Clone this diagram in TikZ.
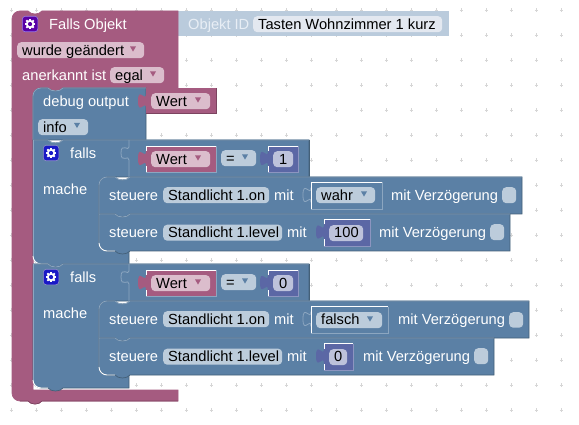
\documentclass[tikz,border=0pt]{standalone}
\usepackage{fontspec}
\setmainfont{Liberation Sans}
\definecolor{pur}{HTML}{A55B80}
\definecolor{purd}{HTML}{7C4460}
\definecolor{purl}{HTML}{C08DA6}
\definecolor{purf}{HTML}{DBBDCC}
\definecolor{blu}{HTML}{5B80A5}
\definecolor{blud}{HTML}{446078}
\definecolor{blul}{HTML}{8CA6C0}
\definecolor{bluf}{HTML}{BCCCDB}
\definecolor{num}{HTML}{5B67A5}
\definecolor{numl}{HTML}{8C95C0}
\definecolor{numf}{HTML}{BDC2DB}
\definecolor{obj}{HTML}{BACBDC}
\definecolor{objf}{HTML}{E3E8F0}
\definecolor{objt}{HTML}{E8EEF5}
\definecolor{gridc}{HTML}{D6D6D6}
\tikzset{
  edge/.style={line width=0.7pt},
  lbl/.style={anchor=base west,inner sep=0pt,yshift=-0.7pt,font=\fontsize{14.67}{17}\selectfont},
  hl/.style={line width=0.8pt,blul},
}
% text: name, x, baseline, colour, text
\newcommand\tl[5]{\node[lbl,text=#4] (#1) at (#2,#3) {#5};}
% field: name x1 y1 x2 y2 fill
\newcommand\fld[6]{\node[fill=#6,rounded corners=4pt,inner sep=0pt,minimum width={(#4-(#2))*1pt},minimum height={(#5-(#3))*1pt},anchor=north west] (#1) at (#2,#3) {};}
% dropdown arrow
\newcommand\dd[3]{\fill[#3] ({#1-3},{#2-2.6}) -- ({#1+3},{#2-2.6}) -- (#1,{#2+2.6}) -- cycle;}
% puzzle tab: x, block top, colour
\newcommand\tabp[3]{\fill[#3] (#1,{#2+5}) .. controls (#1,{#2+15}) and ({#1-8},{#2-3}) .. ({#1-8},{#2+12.5}) .. controls ({#1-8},{#2+28}) and (#1,{#2+10}) .. (#1,{#2+20}) -- cycle;}
% value block: x1 y1 x2 y2 fill, dark, light
\newcommand\vblock[7]{\tabp{#1}{#2}{#5}
  \fill[#5] (#1,#2) rectangle (#3,#4);
  \draw[edge,#6] (#3,#2) -- (#3,#4) -- (#1,#4);
  \draw[edge,#7] (#1,{#4}) -- (#1,{#2+20});\draw[edge,#7] (#1,{#2+5}) -- (#1,#2) -- (#3,#2);}
% gear icon: name x y fill
\newcommand\gear[4]{\node[fill=#4,draw=white!70!#4,line width=0.6pt,rounded corners=3pt,minimum size=15.5pt,inner sep=0pt,anchor=north west] (#1) at (#2,#3) {};
  \foreach \a in {0,45,...,315}{\draw[white,line width=1.8pt] (#1.center) -- ++(\a:5.2pt);}
  \fill[white] (#1.center) circle (4.2pt);
  \fill[#4] (#1.center) circle (2.1pt);}
% statement last row: rounded bottom left
\newcommand\crow[2]{%
  \draw[edge,fill=blu,draw=blud] (99,#1) -- (115,#1) .. controls (118,{#1+4}) and (127,{#1+4}) .. (130,#1) -- (#2,#1) -- (#2,{#1+37}) -- (130,{#1+37}) .. controls (127,{#1+41}) and (118,{#1+41}) .. (115,{#1+37}) -- (107,{#1+37}) .. controls (102.6,{#1+37}) and (99,{#1+33.4}) .. (99,{#1+29}) -- cycle;
  \draw[hl] (99,{#1+29}) -- (99,#1) -- (115,#1) .. controls (118,{#1+4}) and (127,{#1+4}) .. (130,#1) -- (#2,#1);
  \draw[line width=0.9pt,white] (99,{#1+29}) .. controls (99,{#1+33.4}) and (102.6,{#1+37}) .. (107,{#1+37}) -- (115,{#1+37});}
% top-rounded first row
\newcommand\frow[2]{%
  \draw[edge,fill=blu,draw=blud] (107,#1) -- (115,#1) .. controls (118,{#1+4}) and (127,{#1+4}) .. (130,#1) -- (#2,#1) -- (#2,{#1+37}) -- (130,{#1+37}) .. controls (127,{#1+41}) and (118,{#1+41}) .. (115,{#1+37}) -- (99,{#1+37}) -- (99,{#1+8}) .. controls (99,{#1+3.6}) and (102.6,#1) .. (107,#1) -- cycle;
  \draw[hl] (99,{#1+37}) -- (99,{#1+8}) .. controls (99,{#1+3.6}) and (102.6,#1) .. (107,#1) -- (115,#1) .. controls (118,{#1+4}) and (127,{#1+4}) .. (130,#1) -- (#2,#1);}
% if block at top y, with height
\newcommand\iffall[2]{%
  \draw[edge,fill=blu,draw=blud] (33,#1) -- (48,#1) .. controls (51,{#1+4}) and (60,{#1+4}) .. (63,#1) -- (309,#1) -- (309,{#1+37}) -- (107,{#1+37}) -- (99,{#1+45}) -- (99,{#1+103}) -- (107,{#1+111}) -- (129,{#1+111}) -- (129,{#1+#2}) -- (63,{#1+#2}) .. controls (60,{#1+#2+4}) and (51,{#1+#2+4}) .. (48,{#1+#2}) -- (41,{#1+#2}) .. controls (36.6,{#1+#2}) and (33,{#1+#2-3.6}) .. (33,{#1+#2-8}) -- cycle;
  \draw[hl] (33,#1) -- (48,#1) .. controls (51,{#1+4}) and (60,{#1+4}) .. (63,#1) -- (309,#1);
  \draw[edge,blud] (309,#1) -- (309,{#1+37});
  \draw[hl] (129,#1) -- (129,{#1+7}) .. controls (129,{#1+12}) and (121,{#1+2}) .. (121,{#1+13}) .. controls (121,{#1+24}) and (129,{#1+14}) .. (129,{#1+20}) -- (129,{#1+37});
  \draw[hl] (33,#1) -- (33,{#1+#2-8});
  \draw[line width=0.9pt,white] (33,{#1+#2-8}) .. controls (33,{#1+#2-3.6}) and (36.6,{#1+#2}) .. (41,{#1+#2}) -- (48,{#1+#2});}
\begin{document}
\begin{tikzpicture}[x=1pt,y=-1pt]
\useasboundingbox (0,0) rectangle (579,425);
\fill[white] (0,0) rectangle (579,425);
% workspace grid
\foreach \i in {0,...,22}{\foreach \j in {0,...,16}{
  \pgfmathsetmacro\gx{11.5+25*\i}\pgfmathsetmacro\gy{10+25*\j}
  \draw[gridc,line width=0.8pt] ({\gx-1.7},\gy) -- ({\gx+1.7},\gy) (\gx,{\gy-1.7}) -- (\gx,{\gy+1.7});}}
% Objekt ID block
\tabp{178}{11}{obj}
\fill[obj] (178,11) rectangle (449,36.5);
\fld{fobj}{253}{16}{442}{32}{objf}
\tl{tobjid}{188}{29}{objt}{Objekt ID}
\tl{tobjv}{258}{29}{black}{Tasten Wohnzimmer 1 kurz}
% outer purple block
\draw[edge,fill=pur,draw=pur] (12,19) .. controls (12,14.6) and (15.6,11) .. (20,11) -- (28,11) .. controls (31,15) and (39,15) .. (42,11) -- (178,11) -- (178,88) -- (63,88) .. controls (60,92) and (51,92) .. (48,88) -- (41,88) .. controls (36.6,88) and (33,91.6) .. (33,96) -- (33,390) -- (178,390) -- (178,401) -- (42,401) .. controls (39,405) and (31,405) .. (28,401) -- (20,401) .. controls (15.6,401) and (12,397.4) .. (12,393) -- cycle;
\draw[edge,purd] (178,401) -- (42,401) .. controls (39,405) and (31,405) .. (28,401) -- (20,401);
\draw[edge,purl] (33,385) -- (33,96);
% debug block
\draw[edge,fill=blu,draw=blud] (41,88) -- (48,88) .. controls (51,92) and (60,92) .. (63,88) -- (146,88) -- (146,140) -- (33,140) -- (33,96) .. controls (33,91.6) and (36.6,88) .. (41,88) -- cycle;
\draw[hl] (33,140) -- (33,96) .. controls (33,91.6) and (36.6,88) .. (41,88) -- (48,88) .. controls (51,92) and (60,92) .. (63,88) -- (146,88);
\vblock{146}{88.5}{216}{113.5}{pur}{purd}{pur}
\fld{fwert0}{151}{93}{210}{109}{purf}
\dd{198}{100}{pur}
\tl{tdebug}{43}{106}{white}{debug output}
\tl{twert0}{156}{106}{black}{Wert}
\fld{finfo}{38}{119}{88}{135}{bluf}
\dd{77}{125.5}{blu}
\tl{tinfo}{43}{132}{black}{info}
% first if block
\iffall{140}{124}
\frow{177}{522}
\crow{214}{510}
% second if block
\iffall{264}{124}
\frow{301}{529}
\crow{338}{494}
% conditions
\foreach \o/\v/\n in {0/1/a,124/0/b}{
  \vblock{146}{146+\o}{216}{172+\o}{pur}{blul}{white}
  \fld{fw\n}{151}{151+\o}{210}{167+\o}{purf}
  \dd{198}{158+\o}{pur}
  \tl{tw\n}{156}{164+\o}{black}{Wert}
  \fld{feq\n}{221}{150+\o}{256}{166+\o}{bluf}
  \dd{245}{157+\o}{blu}
  \tl{teq\n}{226}{163+\o}{black}{=}
  \vblock{268}{146+\o}{298}{172+\o}{num}{numl}{white}
  \fld{fn\n}{273}{151+\o}{293}{167+\o}{numf}
  \tl{tn\n}{279}{164+\o}{black}{\v}
  \gear{g\n}{43}{145+\o}{blue!75!black!90}
  \tl{tfalls\n}{70}{158+\o}{white}{falls}
  \tl{tmache\n}{43}{194+\o}{white}{mache}
}
% top icon and labels
\gear{gtop}{22}{16}{violet!70!blue}
\tl{tfo}{49}{29}{white}{Falls Objekt}
\fld{fwg}{17}{42}{144}{58}{purf}
\dd{133}{49}{pur}
\tl{twg}{22}{55}{black}{wurde geändert}
\tl{tan}{22}{80}{white}{anerkannt ist}
\fld{feg}{110}{67}{164}{83}{purf}
\dd{153}{74}{pur}
\tl{teg}{115}{80}{black}{egal}
% row 1
\tl{ts1}{109}{200}{white}{steuere}
\fld{fs1}{163}{187}{269}{203}{bluf}
\tl{tf1}{168}{200}{black}{Standlicht 1.on}
\tl{tm1}{274}{200}{white}{mit}
\draw[hl] (311,187.5) .. controls (311,197.5) and (303,179.5) .. (303,195) .. controls (303,210.5) and (311,192.5) .. (311,202.5);
\draw[edge,white] (311,209) -- (311,182.5) -- (382,182.5);
\draw[edge,blul] (382,182.5) -- (382,209) -- (311,209);
\fld{fw1}{316}{187}{375}{203}{bluf}
\dd{364}{194}{blu}
\tl{tb1}{321}{200}{black}{wahr}
\tl{tv1}{391}{200}{white}{mit Verzögerung}
\fld{cb1}{502}{187}{516}{203}{bluf}
% row 2
\tl{ts2}{109}{237}{white}{steuere}
\fld{fs2}{163}{224.5}{282}{240.5}{bluf}
\tl{tf2}{168}{237}{black}{Standlicht 1.level}
\tl{tm2}{287}{237}{white}{mit}
\vblock{324}{219.5}{370}{246}{num}{numl}{white}
\fld{fn2}{329}{225}{363}{241}{numf}
\tl{tn2}{334}{237}{black}{100}
\tl{tv2}{379}{237}{white}{mit Verzögerung}
\fld{cb2}{490}{224}{504}{240}{bluf}
% row 3
\tl{ts3}{109}{324}{white}{steuere}
\fld{fs3}{163}{311}{269}{327}{bluf}
\tl{tf3}{168}{324}{black}{Standlicht 1.on}
\tl{tm3}{274}{324}{white}{mit}
\draw[hl] (311,311.5) .. controls (311,321.5) and (303,303.5) .. (303,319) .. controls (303,334.5) and (311,316.5) .. (311,326.5);
\draw[edge,white] (311,333) -- (311,306.5) -- (388,306.5);
\draw[edge,blul] (388,306.5) -- (388,333) -- (311,333);
\fld{fw3}{316}{312}{382}{328}{bluf}
\dd{370}{319}{blu}
\tl{tb3}{321}{324}{black}{falsch}
\tl{tv3}{398}{324}{white}{mit Verzögerung}
\fld{cb3}{509}{312}{523}{327.5}{bluf}
% row 4
\tl{ts4}{109}{361}{white}{steuere}
\fld{fs4}{163}{348.5}{282}{364.5}{bluf}
\tl{tf4}{168}{361}{black}{Standlicht 1.level}
\tl{tm4}{287}{361}{white}{mit}
\vblock{324}{343.5}{353}{370}{num}{numl}{white}
\fld{fn4}{329}{349}{347}{365}{numf}
\tl{tn4}{334}{361}{black}{0}
\tl{tv4}{363}{361}{white}{mit Verzögerung}
\fld{cb4}{474}{348}{488}{364}{bluf}
\end{tikzpicture}
\end{document}
